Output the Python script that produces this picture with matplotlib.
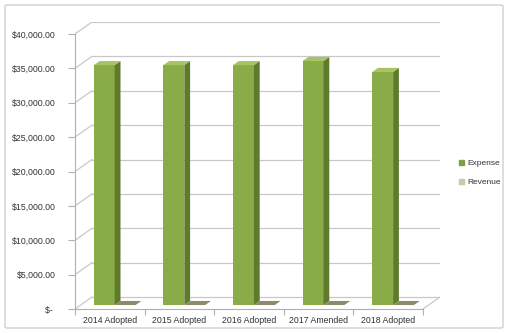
import numpy as np
import matplotlib.pyplot as plt
from matplotlib.patches import Polygon, Patch, FancyBboxPatch

categories = ['2014 Adopted', '2015 Adopted', '2016 Adopted', '2017 Amended', '2018 Adopted']
expense = [34900, 34900, 34900, 35500, 33900]
revenue = [0, 0, 0, 0, 0]
yticks = np.arange(0, 40001, 5000)

plt.rcParams['font.family'] = ['Liberation Sans', 'DejaVu Sans']

fig = plt.figure(figsize=(5.08, 3.33), dpi=100)
ax = fig.add_axes([75 / 508, 24 / 333, 365 / 508, 287 / 333])

# oblique depth offsets (data units) for the fake 3d look
DX = 17 / 69.6
DY = 12 * 40000 / 275
ax.set_xlim(-0.5, 4.5 + DX)
ax.set_ylim(0, 40000 + DY)

grid_c = '#c8c8c8'
# back wall gridlines + left wall slants
for v in yticks:
    ax.plot([-0.5 + DX, 4.5 + DX], [v + DY, v + DY], color=grid_c, lw=0.9, zorder=1)
    ax.plot([-0.5, -0.5 + DX], [v, v + DY], color=grid_c, lw=0.9, zorder=1)
# floor right edge
ax.plot([4.5, 4.5 + DX], [0, DY], color=grid_c, lw=0.9, zorder=1)

# bars
w = 0.3
z0, d = 0.33, 0.34
x = np.arange(len(categories))
series = [
    (expense, x - 0.31, '#8aac48', '#5e7a2c', '#a6c465'),
    (revenue, x - 0.01, '#c4cca8', '#8c8868', '#908a6c'),
]
for vals, xs, c_front, c_side, c_top in series:
    bars = ax.bar(xs + z0 * DX, vals, width=w, bottom=z0 * DY, align='edge',
                  color=c_front, zorder=3, linewidth=0)
    for b in bars:
        x0 = b.get_x()
        x1 = x0 + b.get_width()
        yb = b.get_y()
        yt = yb + b.get_height()
        ox, oy = d * DX, d * DY
        if b.get_height() > 0:
            ax.add_patch(Polygon([(x1, yb), (x1, yt), (x1 + ox, yt + oy), (x1 + ox, yb + oy)],
                                 closed=True, color=c_side, lw=0, zorder=3))
        ax.add_patch(Polygon([(x0, yt), (x1, yt), (x1 + ox, yt + oy), (x0 + ox, yt + oy)],
                             closed=True, color=c_top, lw=0, zorder=4))

# spines as front axes
for s in ['top', 'right']:
    ax.spines[s].set_visible(False)
ax.spines['left'].set_bounds(0, 40000)
ax.spines['bottom'].set_bounds(-0.5, 4.5)
ax.spines['left'].set_color('#b0b0b0')
ax.spines['bottom'].set_color('#b0b0b0')

def money(v):
    return '$- ' if v == 0 else '${:,.2f}'.format(v)

ax.set_yticks(yticks)
ax.set_yticklabels([money(v) for v in yticks])
ax.tick_params(axis='y', length=5, width=0.8, color='#b0b0b0', labelsize=6.3,
               labelcolor='#333333', pad=9)
ax.set_xticks(np.arange(-0.5, 4.6, 1.0))
ax.set_xticklabels([])
ax.set_xticks(x, minor=True)
ax.set_xticklabels(categories, minor=True)
ax.tick_params(axis='x', which='major', length=4, width=0.8, color='#b0b0b0')
ax.tick_params(axis='x', which='minor', length=0, labelsize=6.3, labelcolor='#333333', pad=5)

handles = [Patch(color='#7fa040', label='Expense'), Patch(color='#c2cca8', label='Revenue')]
fig.legend(handles=handles, loc='center left', bbox_to_anchor=(459 / 508, 1 - 173 / 333),
           frameon=False, fontsize=6, handlelength=0.55, handleheight=0.55,
           handletextpad=0.4, labelspacing=1.4, labelcolor='#333333',
           borderaxespad=0, borderpad=0)

# outer chart border
fig.patches.append(FancyBboxPatch((5 / 508, 5 / 333), 498 / 508, 323 / 333,
                                  boxstyle='round,pad=0,rounding_size=0.004',
                                  transform=fig.transFigure, fill=False,
                                  edgecolor='#d0d0d0', lw=1))

fig.savefig('out.png', dpi=100)
